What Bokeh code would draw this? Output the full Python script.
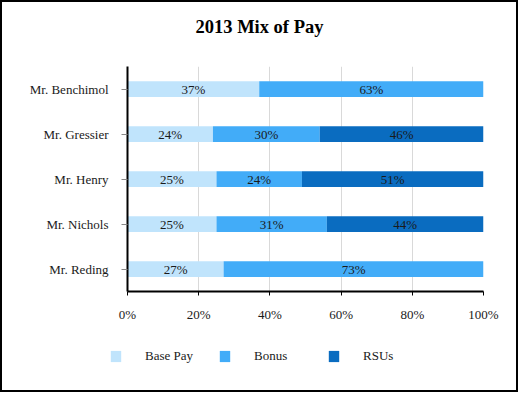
from bokeh.plotting import figure
from bokeh.layouts import column, row
from bokeh.models import ColumnDataSource, Legend, LegendItem, FixedTicker, Title, CustomJSTickFormatter, Range1d
from bokeh.core.properties import value
from bokeh.embed import file_html
from bokeh.resources import INLINE

executives = ["Mr. Benchimol", "Mr. Gressier", "Mr. Henry", "Mr. Nichols", "Mr. Reding"]
base_pay = [37, 24, 25, 25, 27]
bonus = [63, 30, 24, 31, 73]
rsus = [0, 46, 51, 44, 0]
series_names = ["Base Pay", "Bonus", "RSUs"]
colors = ["#C0E4FC", "#42ACF8", "#0A6CC0"]
x_ticks = [0, 20, 40, 60, 80, 100]
chart_title = "2013 Mix of Pay"

FONT = "Liberation Serif"
TXT = "#1a1a1a"

cats = list(reversed(executives))
p = figure(y_range=cats, x_range=(0, 100), width=514, height=330, title=None,
           output_backend="svg", toolbar_location=None,
           min_border_left=125, min_border_right=33, min_border_top=63, min_border_bottom=41)

series_vals = [base_pay, bonus, rsus]
for j, s in enumerate(series_names):
    ys, lefts, rights, labs, mids = [], [], [], [], []
    for i, name in enumerate(executives):
        start = sum(series_vals[k][i] for k in range(j))
        v = series_vals[j][i]
        if v > 0:
            ys.append(name)
            lefts.append(start)
            rights.append(start + v)
            labs.append(f"{v}%")
            mids.append(start + v / 2)
    src = ColumnDataSource(dict(y=ys, left=lefts, right=rights, lab=labs, mid=mids))
    p.hbar(y="y", left="left", right="right", height=0.35, source=src,
           fill_color=colors[j], line_color=None)
    p.text(x="mid", y="y", text="lab", source=src, text_align="center", text_baseline="middle",
           text_font=value(FONT), text_font_size="13px", text_color=TXT)

# spacer panel between frame and title, then the title itself (outermost)
p.add_layout(Title(text=" ", text_font_size="1px", standoff=14), "above")
p.add_layout(Title(text=chart_title, align="left", offset=68, text_font=FONT, text_font_size="18.5px",
                   text_font_style="bold", text_color="black", standoff=25), "above")

p.xaxis.ticker = FixedTicker(ticks=x_ticks)
p.xaxis.formatter = CustomJSTickFormatter(code="return tick + '%'")
p.xaxis.major_label_text_font = FONT
p.xaxis.major_label_text_font_size = "13px"
p.xaxis.major_label_text_color = TXT
p.xaxis.major_label_standoff = 11
p.xaxis.axis_line_width = 2
p.xaxis.axis_line_color = "black"
p.xaxis.major_tick_in = 0
p.xaxis.major_tick_out = 4
p.xaxis.major_tick_line_color = "black"
p.xaxis.minor_tick_line_color = None

p.yaxis.major_label_text_font = FONT
p.yaxis.major_label_text_font_size = "13px"
p.yaxis.major_label_text_color = TXT
p.yaxis.axis_line_width = 2
p.yaxis.axis_line_color = "black"
p.yaxis.major_tick_in = 0
p.yaxis.major_tick_out = 6
p.yaxis.major_tick_line_color = "#888888"
p.yaxis.major_label_standoff = 13

p.ygrid.grid_line_color = None
p.xgrid.grid_line_color = "#D9D9D9"
p.xgrid.ticker = FixedTicker(ticks=x_ticks)
p.outline_line_color = None
p.y_range.range_padding = 0

# legend strip
lg = figure(width=514, height=58, output_backend="svg", toolbar_location=None,
            x_range=Range1d(0, 1), y_range=Range1d(0, 1),
            x_axis_location=None, y_axis_location=None,
            min_border_left=0, min_border_right=0, min_border_top=0, min_border_bottom=0)
lg.grid.visible = False
lg.outline_line_color = None
nan = float("nan")
items = []
for j, s in enumerate(series_names):
    r = lg.hbar(y=[nan], left=[nan], right=[nan], height=0.5, fill_color=colors[j], line_color=None)
    items.append(LegendItem(label=s, renderers=[r]))
legend = Legend(items=items, orientation="horizontal", location=(107, 26),
                glyph_width=13, glyph_height=14, label_standoff=23, label_width=73,
                spacing=0, padding=0, margin=0, border_line_alpha=0, background_fill_alpha=0,
                label_text_font=FONT, label_text_font_size="13px", label_text_color=TXT)
lg.add_layout(legend, "center")

layout = column(p, row(lg), spacing=0)
layout.styles = {"border": "2px solid black"}

open("out.html", "w").write(file_html(layout, INLINE))
